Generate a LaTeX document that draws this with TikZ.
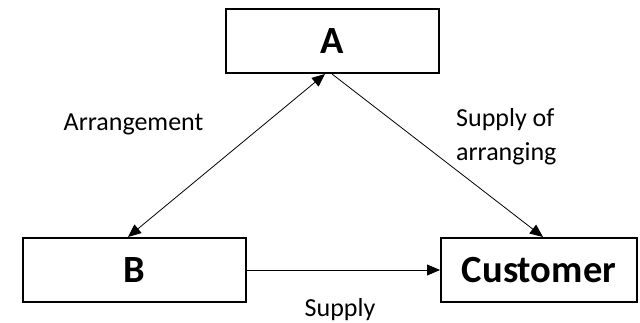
\documentclass[tikz,border=0pt]{standalone}
\usepackage{fontspec}
\setmainfont{Carlito}
\usetikzlibrary{arrows.meta,calc}
\begin{document}
\begin{tikzpicture}[x=1pt,y=-1pt,
  party/.style={draw=black,line width=2pt,fill=white,inner sep=0pt,
    minimum height=64pt,font=\fontsize{38.5}{46}\selectfont\bfseries},
  tip/.tip={Triangle[length=13pt,width=11pt]},
  flow/.style={line width=0.8pt,-tip},
  lbl/.style={inner sep=0pt,font=\fontsize{26}{34}\selectfont}]
  \useasboundingbox (0,0) rectangle (640,323);
  % the three parties
  \node[party,minimum width=213pt] (A) at (332.5,41) {A};
  \node[party,minimum width=223pt] (B) at (134.5,270) {B};
  \node[party,minimum width=196pt] (C) at (539,270) {Customer};
  % relations between them
  \draw[line width=0.8pt,tip-tip]
    ($(B.north)+(-6.5,0)$) -- ($(A.south)+(-7.5,0)$);
  \draw[flow] ($(A.south)+(-0.5,0)$) -- ($(C.north)+(4,0)$);
  \draw[flow] (B.east) -- (C.west);
  % labels
  \node[lbl,anchor=base] (arr) at (133.5,131) {Arrangement};
  \node[lbl,anchor=base west,align=left] (soa) at (456,161) {Supply of\\arranging};
  \node[lbl,anchor=base] (sup) at (340,316) {Supply};
\end{tikzpicture}
\end{document}
